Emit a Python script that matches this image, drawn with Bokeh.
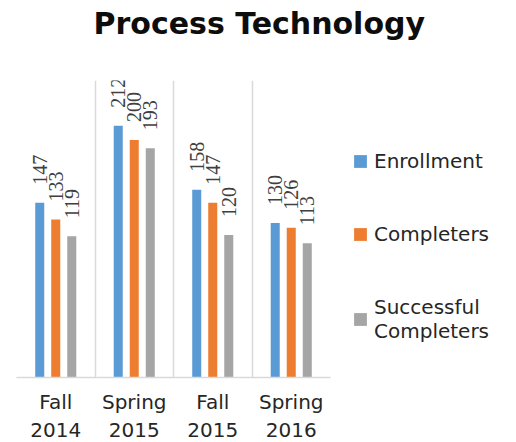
import numpy as np
from bokeh.plotting import figure
from bokeh.models import (ColumnDataSource, FixedTicker, Range1d, LabelSet, Title,
                          Legend, LegendItem)
from bokeh.embed import file_html
from bokeh.resources import INLINE

categories = ["Fall\n2014", "Spring\n2015", "Fall\n2015", "Spring\n2016"]
series_names = ["Enrollment", "Completers", "Successful\nCompleters"]
enrollment = [147, 212, 158, 130]
completers = [133, 200, 147, 126]
successful = [119, 193, 120, 113]
colors = ["#5B9BD5", "#ED7D31", "#A5A5A5"]
title_text = "Process Technology"

FONT = "DejaVu Sans"
n = len(categories)
centers = np.arange(n) + 0.5

p = figure(frame_width=314, frame_height=297, output_backend="svg", toolbar_location=None,
           x_range=Range1d(0, n), y_range=Range1d(0, 250),
           min_border_left=16, min_border_right=0, min_border_top=79,
           min_border_bottom=60, title=None)
p.outline_line_color = None

offsets = [-0.204, 0.0, 0.204]
width = 0.115
renderers = []
for vals, off, col in zip([enrollment, completers, successful], offsets, colors):
    src = ColumnDataSource(dict(x=centers + off, top=vals, lab=[str(v) for v in vals]))
    r = p.vbar(x="x", top="top", width=width, source=src, fill_color=col, line_color=None)
    renderers.append(r)
    p.add_layout(LabelSet(x="x", y="top", text="lab", source=src, angle=np.pi / 2,
                          y_offset=18, text_align="left", text_baseline="middle",
                          text_font=FONT, text_font_size="20px", text_color="#404040"))

p.yaxis.visible = False
p.ygrid.grid_line_color = None

ax = p.xaxis[0]
ax.ticker = FixedTicker(ticks=list(centers))
ax.major_label_overrides = {float(c): lab for c, lab in zip(centers, categories)}
ax.major_tick_line_color = None
ax.minor_tick_line_color = None
ax.axis_line_color = "#D9D9D9"
ax.axis_line_width = 1.5
ax.major_label_text_font = FONT
ax.major_label_text_font_size = "20px"
ax.major_label_text_color = "#262626"
ax.major_label_standoff = 6

p.xgrid.ticker = FixedTicker(ticks=list(range(n + 1)))
p.xgrid.grid_line_color = "#D9D9D9"
p.xgrid.grid_line_width = 1.5

legend = Legend(items=[LegendItem(label=nm, renderers=[r]) for nm, r in zip(series_names, renderers)],
                location=(22, 34), orientation="vertical",
                glyph_width=16, glyph_height=16, label_standoff=6,
                spacing=49, padding=0, margin=24,
                label_text_font=FONT, label_text_font_size="20px", label_text_color="#262626",
                border_line_color=None, background_fill_alpha=0)
p.add_layout(legend, "right")

# empty spacer title between the frame and the real title
p.add_layout(Title(text=" ", standoff=10, text_font=FONT, text_font_size="22px"), "above")
p.add_layout(Title(text=title_text, align="left", offset=77, standoff=6,
                   text_font=FONT, text_font_size="30px", text_font_style="bold",
                   text_color="#0D0D0D"), "above")

open("out.html", "w").write(file_html(p, INLINE))
